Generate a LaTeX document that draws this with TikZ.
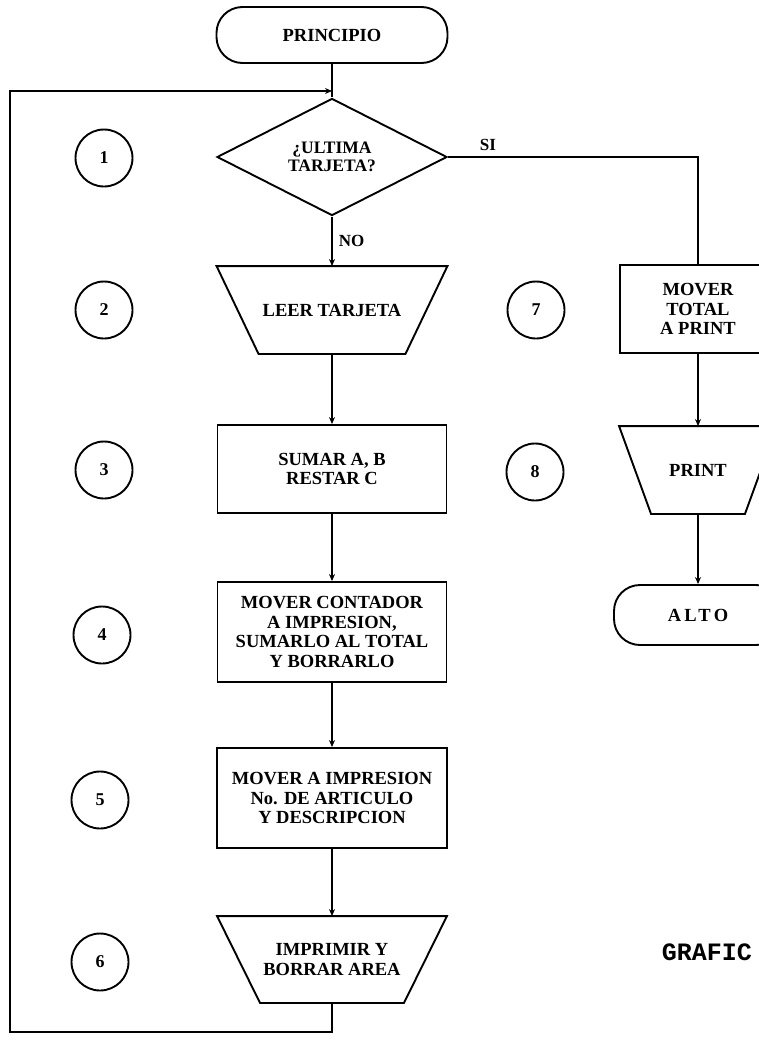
\documentclass[tikz,border=0pt]{standalone}
\usepackage{fontspec}
\setmainfont{Liberation Serif}
\newfontfamily\monob{Liberation Mono}
\usetikzlibrary{shapes.geometric,arrows.meta}
\begin{document}
\begin{tikzpicture}[x=1pt,y=-1pt,
  line width=1.9pt,
  txt/.style={font=\fontsize{18.5}{19.5}\selectfont\bfseries, align=center, inner sep=0pt},
  procbox/.style={txt, draw, rectangle, minimum width=229pt},
  trapbox/.style={txt, rectangle, minimum width=229pt, minimum height=86pt},
  termbox/.style={txt, draw, rounded corners=26pt, minimum height=56pt},
  decbox/.style={txt, draw, diamond, minimum width=230pt, minimum height=71pt, font=\fontsize{17.5}{19.5}\selectfont\bfseries},
  numcirc/.style={draw, circle, minimum size=57pt, inner sep=0pt, font=\fontsize{18}{18}\selectfont\bfseries},
  flow/.style={-{Stealth[length=7pt,width=6pt]}},
  lbl/.style={font=\fontsize{17}{17}\selectfont\bfseries, inner sep=0pt}
]
\useasboundingbox (0,0) rectangle (759,1063);

% main column
\node[termbox, minimum width=231pt] (principio) at (332,35) {PRINCIPIO};
\node[decbox] (ultima) at (332,157) {¿ULTIMA\\[-2pt]TARJETA?};
\node[trapbox] (leer) at (332,310) {LEER TARJETA};
\draw (leer.north west) -- (leer.north east) -- ([xshift=-42pt]leer.south east) -- ([xshift=42pt]leer.south west) -- cycle;
\node[procbox, minimum height=88pt] (sumar) at (332,469) {SUMAR A, B\\RESTAR C};
\node[procbox, minimum height=100pt] (contador) at (332,632) {MOVER CONTADOR\\A IMPRESION,\\SUMARLO AL TOTAL\\Y BORRARLO};
\node[procbox, minimum height=100pt, minimum width=230pt] (impresion) at (332,798) {MOVER A IMPRESION\\No. DE ARTICULO\\Y DESCRIPCION};
\node[trapbox, minimum height=85pt, minimum width=228pt] (imprimir) at (332,959.5) {IMPRIMIR Y\\BORRAR AREA};
\draw (imprimir.north west) -- (imprimir.north east) -- ([xshift=-43pt]imprimir.south east) -- ([xshift=43pt]imprimir.south west) -- cycle;

% right column
\node[procbox, minimum width=156pt, minimum height=88pt] (total) at (698,309) {MOVER\\TOTAL\\A PRINT};
\node[trapbox, minimum width=156pt, minimum height=86pt] (print) at (698,470) {PRINT};
\draw (print.north west) -- (print.north east) -- ([xshift=-32pt]print.south east) -- ([xshift=32pt]print.south west) -- cycle;
\node[termbox, minimum width=168pt, minimum height=60pt] (alto) at (698,615) {\addfontfeature{LetterSpace=18}ALTO};

% numbered circles
\node[numcirc] (c1) at (104,158) {1};
\node[numcirc] (c2) at (104,310) {2};
\node[numcirc] (c3) at (104,470) {3};
\node[numcirc] (c4) at (102,635) {4};
\node[numcirc] (c5) at (100,800) {5};
\node[numcirc] (c6) at (100,962) {6};
\node[numcirc] (c7) at (536,310) {7};
\node[numcirc] (c8) at (535,472) {8};

% title fragment
\node[anchor=west, inner sep=0pt, font=\monob\fontsize{25}{25}\selectfont\bfseries] (grafico) at (661,952) {GRAFIC};

% connectors
\coordinate (join) at (332,91);
\coordinate (loopbl) at (10,1032);
\coordinate (looptl) at (10,91);
\draw (principio) -- (ultima);
\draw[flow] (ultima) -- node[lbl, anchor=west, xshift=6pt] (nolbl) {NO} (leer);
\draw[flow] (leer) -- (sumar);
\draw[flow] (sumar) -- (contador);
\draw[flow] (contador) -- (impresion);
\draw[flow] (impresion) -- (imprimir);
\draw[flow] (imprimir.south) |- (loopbl) -- (looptl) -- (join);
\draw (ultima.east) -| node[lbl, pos=0.08, anchor=south, yshift=5pt] (silbl) {SI} (total.north);
\draw[flow] (total) -- (print);
\draw[flow] (print) -- (alto);
\end{tikzpicture}
\end{document}
